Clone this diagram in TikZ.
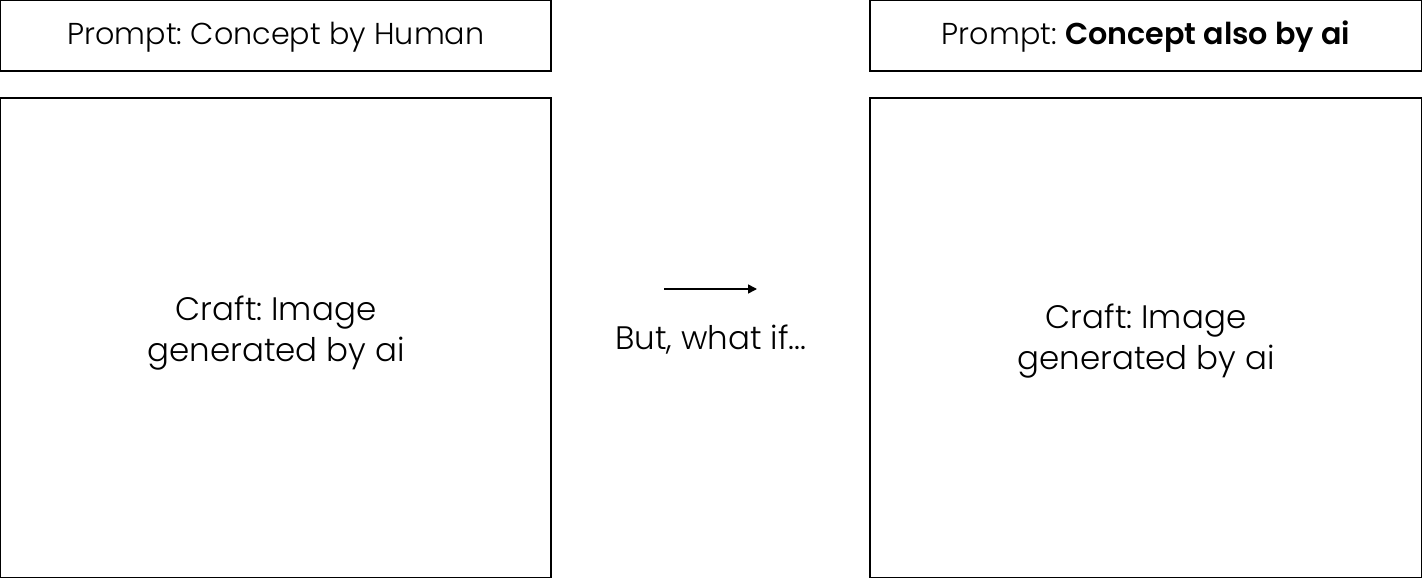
\documentclass[tikz,border=0pt]{standalone}
\usepackage{fontspec}
\setmainfont{Poppins}[UprightFont=* Light, BoldFont=* SemiBold]
\usetikzlibrary{arrows.meta}
\frenchspacing
\begin{document}
\begin{tikzpicture}[x=1pt,y=-1pt,
  frame/.style={draw=black, line width=1.2pt},
  lbl/.style={font=\frenchspacing\fontsize{30.2}{34}\selectfont, inner sep=0pt},
  craft/.style={font=\frenchspacing\fontsize{32.5}{41}\selectfont, align=center, inner sep=0pt}]
\useasboundingbox (0,0) rectangle (1422,578);
\draw[frame] (0.6,0.6) rectangle (551,71);
\draw[frame] (0.6,98) rectangle (551,577.4);
\draw[frame] (870,0.6) rectangle (1421.4,71);
\draw[frame] (870,98) rectangle (1421.4,577.4);
\node[lbl] (lt) at (276,37) {Prompt: Concept by Human};
\node[lbl] (rt) at (1146,37) {Prompt: \textbf{Concept also by ai}};
\node[craft] (lc) at (276,333) {Craft: Image\\generated by ai};
\node[craft] (rc) at (1146,341) {Craft: Image\\generated by ai};
\coordinate (a1) at (664,289);
\coordinate (a2) at (757,289);
\draw[line width=1.6pt, -{Triangle[length=9pt,width=9pt]}] (a1) -- (a2);
\node[craft] (mid) at (711,340) {But, what if...};
\end{tikzpicture}
\end{document}
